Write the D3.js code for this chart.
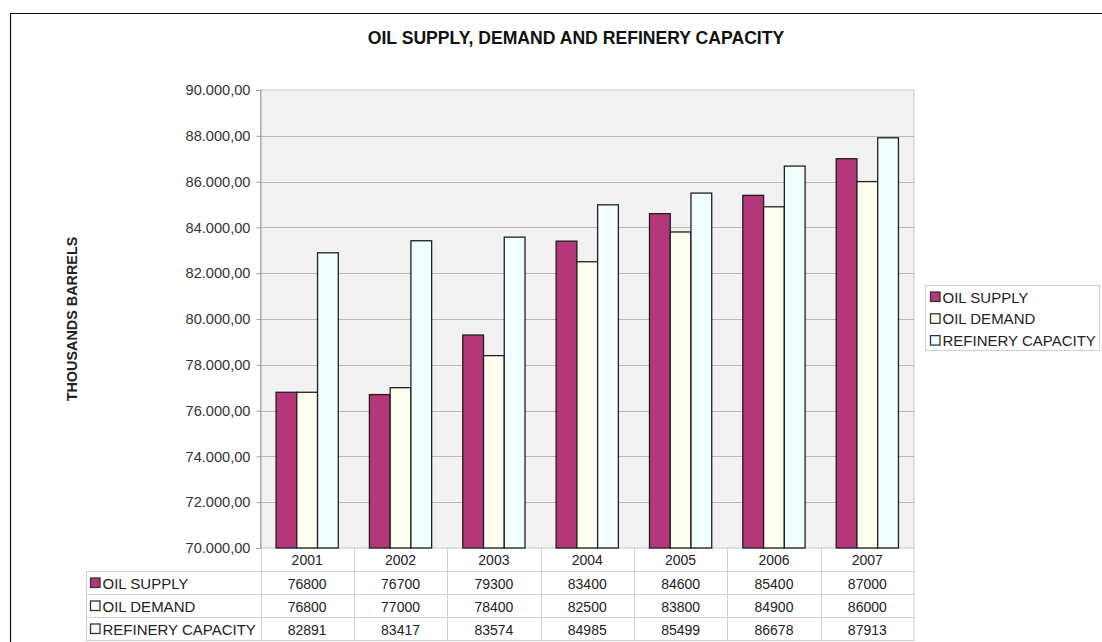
<!DOCTYPE html>
<html>
<head>
<meta charset="utf-8">
<script src="https://cdn.jsdelivr.net/npm/d3@7"></script>
<style>
  html, body { margin: 0; padding: 0; background: #fff; }
  svg { display: block; font-family: "Liberation Sans", Arial, sans-serif; }
</style>
</head>
<body>
<svg id="chart" width="1102" height="642"></svg>
<script>
// Annual figures, thousands of barrels
const years = ["2001", "2002", "2003", "2004", "2005", "2006", "2007"];
const seriesNames = ["OIL SUPPLY", "OIL DEMAND", "REFINERY CAPACITY"];
const oilSupply = [76800, 76700, 79300, 83400, 84600, 85400, 87000];
const oilDemand = [76800, 77000, 78400, 82500, 83800, 84900, 86000];
const refineryCapacity = [82891, 83417, 83574, 84985, 85499, 86678, 87913];
const yTicks = [70000, 72000, 74000, 76000, 78000, 80000, 82000, 84000, 86000, 88000, 90000];
const seriesColors = ["#b4377a", "#fffff0", "#f0ffff"];

const seriesValues = [oilSupply, oilDemand, refineryCapacity];

const svg = d3.select("#chart");
const plot = { left: 260.5, right: 914, top: 90, bottom: 548 };

// Outer frame (top and left edges)
svg.append("path")
  .attr("d", "M10.5,642 L10.5,13.5 L1102,13.5")
  .attr("fill", "none").attr("stroke", "#111").attr("stroke-width", 1.2);

// Title
svg.append("text")
  .attr("x", 576).attr("y", 44)
  .attr("text-anchor", "middle")
  .attr("font-size", 17.6).attr("font-weight", "bold").attr("fill", "#111")
  .text("OIL SUPPLY, DEMAND AND REFINERY CAPACITY");

// Scales
const x = d3.scaleBand().domain(years).range([plot.left, plot.right]);
const y = d3.scaleLinear().domain([70000, 90000]).range([plot.bottom, plot.top]);
const barW = x.bandwidth() / 4.5;           // three bars plus a 150% gap
const xs = d3.scaleBand().domain(seriesNames)
  .range([x.bandwidth() * 0.75 / 4.5, x.bandwidth() * 0.75 / 4.5 + barW * 3]);

// Plot background
svg.append("rect")
  .attr("x", plot.left).attr("y", plot.top)
  .attr("width", plot.right - plot.left).attr("height", plot.bottom - plot.top)
  .attr("fill", "#f2f2f2").attr("stroke", "#c8c8c8");

// Gridlines
svg.append("g").selectAll("line").data(yTicks.slice(1, -1)).join("line")
  .attr("x1", plot.left).attr("x2", plot.right)
  .attr("y1", d => Math.round(y(d)) + 0.5).attr("y2", d => Math.round(y(d)) + 0.5)
  .attr("stroke", "#b8b8b8");

// Y axis
const locale = d3.formatLocale({ decimal: ",", thousands: ".", grouping: [3], currency: ["", ""] });
const fmt = locale.format(",.2f");
const yAxis = d3.axisLeft(y).tickValues(yTicks).tickFormat(fmt).tickSize(4).tickPadding(6);
const gy = svg.append("g").attr("transform", `translate(${plot.left},0)`).call(yAxis);
gy.select(".domain").attr("stroke", "#999");
gy.selectAll(".tick line").attr("stroke", "#999");
gy.selectAll("text").attr("font-size", 14.6).attr("fill", "#333")
  .attr("font-family", "'Liberation Sans', Arial, sans-serif");

// Axis title
svg.append("text")
  .attr("transform", "translate(77,319) rotate(-90)")
  .attr("text-anchor", "middle")
  .attr("font-size", 14.4).attr("font-weight", "bold").attr("fill", "#222")
  .text("THOUSANDS BARRELS");

// Bars
const groups = svg.append("g").selectAll("g").data(years).join("g")
  .attr("transform", d => `translate(${x(d)},0)`);
groups.selectAll("rect")
  .data((yr, i) => seriesNames.map((s, j) => ({ s, j, v: seriesValues[j][i] })))
  .join("rect")
  .attr("x", d => xs(d.s))
  .attr("y", d => y(d.v))
  .attr("width", xs.bandwidth())
  .attr("height", d => plot.bottom - y(d.v))
  .attr("fill", d => seriesColors[d.j])
  .attr("stroke", "#1e1e1e").attr("stroke-width", 1.3);

// Data table under the plot
const rowTop = [548, 571.5, 594.5, 617.5];
const tableLeft = 86.5;
const grid = svg.append("g").attr("stroke", "#cfcfcf").attr("fill", "none");
// horizontal rules
[571.5, 594.5, 617.5, 640.5].forEach(yy => {
  grid.append("line").attr("x1", tableLeft).attr("x2", plot.right).attr("y1", yy).attr("y2", yy);
});
// vertical rules
years.forEach(yr => {
  const xx = Math.round(x(yr)) + 0.5;
  grid.append("line").attr("x1", xx).attr("x2", xx).attr("y1", plot.bottom).attr("y2", 641);
});
grid.append("line").attr("x1", plot.right).attr("x2", plot.right).attr("y1", plot.bottom).attr("y2", 641);
grid.append("line").attr("x1", tableLeft).attr("x2", tableLeft).attr("y1", 571.5).attr("y2", 641);

// Year header row
svg.append("g").selectAll("text").data(years).join("text")
  .attr("x", d => x(d) + x.bandwidth() / 2).attr("y", rowTop[0] + 17)
  .attr("text-anchor", "middle").attr("font-size", 14).attr("fill", "#222")
  .text(d => d);

// Series rows
seriesNames.forEach((name, j) => {
  const top = rowTop[j + 1];
  svg.append("rect")
    .attr("x", 90.5).attr("y", top + 6.5).attr("width", 9.5).attr("height", 9.5)
    .attr("fill", seriesColors[j]).attr("stroke", "#333").attr("stroke-width", 1.3);
  svg.append("text")
    .attr("x", 102.5).attr("y", top + 17)
    .attr("font-size", 15).attr("fill", "#222")
    .text(name);
  svg.append("g").selectAll("text").data(seriesValues[j]).join("text")
    .attr("x", (d, i) => x(years[i]) + x.bandwidth() / 2).attr("y", top + 17)
    .attr("text-anchor", "middle").attr("font-size", 14).attr("fill", "#222")
    .text(d => d);
});

// Legend
const legend = svg.append("g");
legend.append("rect")
  .attr("x", 925.5).attr("y", 285.5).attr("width", 174).attr("height", 65)
  .attr("fill", "#fff").attr("stroke", "#cfcfcf");
seriesNames.forEach((name, j) => {
  const cy = 297 + j * 21.8;
  legend.append("rect")
    .attr("x", 930.5).attr("y", cy - 5).attr("width", 9.5).attr("height", 9.5)
    .attr("fill", seriesColors[j]).attr("stroke", "#333").attr("stroke-width", 1.3);
  legend.append("text")
    .attr("x", 942.5).attr("y", cy + 5.5)
    .attr("font-size", 15).attr("fill", "#222")
    .text(name);
});
</script>
</body>
</html>
